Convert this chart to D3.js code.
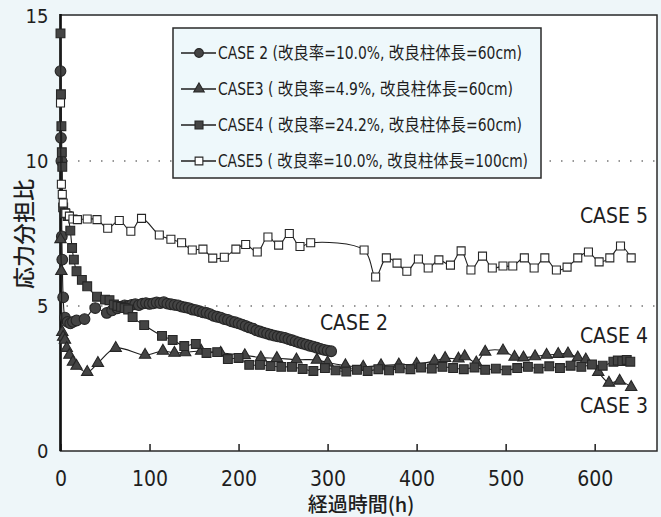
<!DOCTYPE html>
<html>
<head>
<meta charset="utf-8">
<script src="https://cdn.jsdelivr.net/npm/d3@7"></script>
<style>
body { margin: 0; background: #eef6f9; }
</style>
</head>
<body>
<div id="chart"></div>
<script>
// --- Data (elapsed time in h, stress sharing ratio)

var case2 = [[0,13.1],[0.5,10.8],[1,10.0],[1.5,7.4],[2,6.6],[3,5.3],[5,4.6],[8,4.45],[11,4.4],[14,4.45],[18,4.5],
  [27,4.55],[39,4.93],[52,4.76],[58,4.85],[64,4.92],[68,4.98],[72,5.02],[76,5.0],[80,5.04],[84,5.06],[88,5.03],
  [92,5.08],[96,5.1],[100,5.07],[104,5.09],[108,5.12],[112,5.1],[116,5.13],[120,5.08],[124,5.06],[128,5.04],
  [132,5.02],[136,4.98],[140,4.95],[144,4.93],[148,4.88],[152,4.86],[156,4.82],[160,4.78],[164,4.76],[168,4.72],
  [172,4.66],[176,4.63],[180,4.6],[184,4.55],[188,4.52],[192,4.47],[196,4.44],[200,4.4],[204,4.36],[208,4.31],
  [212,4.26],[216,4.22],[220,4.16],[224,4.12],[228,4.08],[232,4.05],[236,4.01],[240,3.98],[244,3.95],[248,3.93],
  [252,3.9],[256,3.86],[260,3.82],[264,3.78],[268,3.74],[272,3.7],[276,3.67],[280,3.63],[284,3.6],[288,3.56],
  [292,3.52],[296,3.49],[300,3.46],[304,3.44]]

var case3 = [[0,7.3],[1,6.2],[2,4.1],[3,3.93],[5,3.83],[7,3.55],[10,3.31],[14,3.07],[18,2.93],[30,2.72],[42,3.03],
  [62,3.55],[95,3.31],[115,3.45],[128,3.38],[140,3.4],[158,3.45],[180,3.38],[207,3.3],[225,3.22],[243,3.2],
  [265,3.15],[288,3.14],[300,3.05],[320,2.95],[340,2.9],[360,2.95],[380,2.98],[400,3.0],[420,3.1],[432,3.2],
  [447,3.18],[454,3.26],[467,3.05],[477,3.42],[497,3.46],[510,3.24],[520,3.22],[533,3.26],[546,3.31],[559,3.34],
  [570,3.36],[581,3.22],[590,3.15],[604,2.72],[616,2.35],[628,2.42],[641,2.2]]

var case4 = [[0,14.4],[0.5,12.3],[1,11.2],[1.5,10.3],[2,9.8],[3,8.4],[5,8.2],[8,8.1],[11,7.6],[13,7.0],[15,6.6],
  [18,6.2],[24,5.9],[30,5.68],[41,5.32],[50,5.22],[55,5.2],[60,5.05],[64,5.0],[68,4.97],[72,4.93],[76,4.88],
  [81,4.62],[94,4.34],[114,3.97],[126,3.83],[139,3.62],[152,3.69],[164,3.38],[176,3.41],[188,3.17],[200,3.21],
  [212,2.97],[224,2.97],[236,2.93],[248,2.9],[260,2.9],[272,2.83],[284,2.76],[297,2.86],[309,2.78],[321,2.74],
  [333,2.8],[345,2.76],[357,2.82],[369,2.78],[381,2.85],[393,2.82],[405,2.88],[417,2.84],[429,2.9],[441,2.86],
  [453,2.82],[465,2.88],[477,2.8],[489,2.84],[501,2.78],[513,2.86],[525,2.9],[537,2.84],[549,2.92],[561,2.86],
  [573,2.94],[585,2.9],[597,2.98],[609,2.94],[621,3.08],[626,3.12],[631,3.1],[636,3.14],[640,3.08]]

var case5 = [[0,12.0],[1,9.2],[2,8.85],[3,8.55],[6,8.2],[10,8.1],[14,8.0],[19,7.98],[30,8.0],[41,7.98],[53,7.68],
  [66,7.95],[79,7.58],[91,8.02],[111,7.45],[124,7.3],[136,7.18],[148,6.93],[160,6.96],[171,6.65],[184,6.68],
  [197,6.96],[208,7.12],[221,6.86],[233,7.38],[245,7.1],[257,7.5],[269,7.05],[281,7.18],[341,6.93],[354,6.0],
  [366,6.66],[378,6.48],[389,6.2],[402,6.62],[413,6.31],[425,6.59],[438,6.41],[450,6.9],[461,6.24],[474,6.72],
  [485,6.31],[497,6.38],[508,6.38],[521,6.66],[532,6.31],[544,6.66],[557,6.24],[569,6.34],[581,6.66],[593,6.86],
  [605,6.52],[617,6.66],[629,7.07],[641,6.66]]

var xTicks = [0, 100, 200, 300, 400, 500, 600]
var yTicks = [0, 5, 10, 15]
var gridValues = [5, 10]

var legendLabels = [
  'CASE 2 (改良率=10.0%, 改良柱体長=60cm)',
  'CASE3 ( 改良率=4.9%, 改良柱体長=60cm)',
  'CASE4 ( 改良率=24.2%, 改良柱体長=60cm)',
  'CASE5 ( 改良率=10.0%, 改良柱体長=100cm)'
]
var curveLabels = ['CASE 2', 'CASE 3', 'CASE 4', 'CASE 5']

// --- Settings

var settings = {}
settings.width = 661
settings.height = 517
settings.left = 60.5
settings.right = 657
settings.top = 16
settings.bottom = 451
settings.latin_font = '"Liberation Sans Narrow", "DejaVu Sans Condensed", "Noto Sans CJK JP", sans-serif'
settings.cjk_font = '"Noto Sans CJK JP", sans-serif'
settings.ink = '#1e1e1e'
settings.mark_fill = '#444'

var svg = d3.select('#chart').append('svg')
  .attr('width', settings.width)
  .attr('height', settings.height)

var x = d3.scaleLinear().domain([0, 670]).range([settings.left, settings.right])
var y = d3.scaleLinear().domain([0, 15]).range([settings.bottom, settings.top])

// Plot background
svg.append('rect')
  .attr('x', settings.left)
  .attr('y', settings.top)
  .attr('width', settings.right - settings.left)
  .attr('height', settings.bottom - settings.top)
  .attr('fill', '#fff')

// Dotted grid
gridValues.forEach(function(v){
  svg.append('line')
    .attr('x1', settings.left + 6).attr('x2', settings.right)
    .attr('y1', y(v)).attr('y2', y(v))
    .attr('stroke', '#777')
    .attr('stroke-width', 1.4)
    .attr('stroke-dasharray', '1.5,10')
})

// Axes
var xAxis = svg.append('g')
  .attr('transform', 'translate(0,' + settings.bottom + ')')
  .call(d3.axisBottom(x).tickValues(xTicks).tickSize(-7).tickPadding(20).tickFormat(d3.format('d')))
xAxis.select('.domain').remove()
xAxis.selectAll('line').attr('stroke', settings.ink).attr('stroke-width', 1.5)
xAxis.selectAll('text')
  .attr('font-family', settings.latin_font)
  .attr('font-size', 21)
  .attr('fill', settings.ink)

var yAxis = svg.append('g')
  .attr('transform', 'translate(' + settings.left + ',0)')
  .call(d3.axisLeft(y).tickValues(yTicks).tickSize(0).tickPadding(12))
yAxis.select('.domain').remove()
yAxis.selectAll('text')
  .attr('font-family', settings.latin_font)
  .attr('font-size', 20)
  .attr('fill', settings.ink)

// Frame
svg.append('rect')
  .attr('x', settings.left)
  .attr('y', settings.top - 1)
  .attr('width', settings.right - settings.left)
  .attr('height', settings.bottom - settings.top + 1)
  .attr('fill', 'none')
  .attr('stroke', '#2a2a2a')
  .attr('stroke-width', 1.5)
svg.append('line')
  .attr('x1', settings.left).attr('x2', settings.left)
  .attr('y1', settings.top - 2).attr('y2', settings.bottom)
  .attr('stroke', '#111')
  .attr('stroke-width', 2.6)

// Series (size = marker in plot, legendSize = marker in legend)
var series = [
  { data: case2, symbol: d3.symbolCircle, size: 90, legendSize: 60, fill: settings.mark_fill },
  { data: case3, symbol: d3.symbolTriangle, size: 56, legendSize: 48, fill: settings.mark_fill },
  { data: case4, symbol: d3.symbolSquare, size: 78, legendSize: 64, fill: settings.mark_fill },
  { data: case5, symbol: d3.symbolSquare, size: 64, legendSize: 60, fill: '#fff' }
]

var line = d3.line()
  .x(function(d){ return x(d[0]) })
  .y(function(d){ return y(d[1]) })
  .curve(d3.curveCatmullRom.alpha(0.5))

series.forEach(function(s){
  svg.append('path')
    .attr('d', line(s.data))
    .attr('fill', 'none')
    .attr('stroke', settings.ink)
    .attr('stroke-width', 1.1)

  svg.append('g').selectAll('path')
    .data(s.data)
    .join('path')
    .attr('transform', function(d){ return 'translate(' + x(d[0]) + ',' + y(d[1]) + ')' })
    .attr('d', d3.symbol().type(s.symbol).size(s.size))
    .attr('fill', s.fill)
    .attr('stroke', '#262626')
    .attr('stroke-width', 1.1)
})

// Curve labels
var curveLabelPos = [[388, 330], [648, 413], [648, 343], [648, 223]]
curveLabels.forEach(function(t, i){
  svg.append('text')
    .attr('x', curveLabelPos[i][0])
    .attr('y', curveLabelPos[i][1])
    .attr('text-anchor', 'end')
    .attr('font-family', settings.latin_font)
    .attr('font-size', 21)
    .attr('fill', settings.ink)
    .text(t)
})

// Legend
var legend = svg.append('g')
legend.append('rect')
  .attr('x', 173).attr('y', 28)
  .attr('width', 368).attr('height', 150)
  .attr('fill', '#eef8fb')
  .attr('stroke', '#2a2a2a')
  .attr('stroke-width', 1.5)

var legendWidths = [304, 295, 304, 310]
legendLabels.forEach(function(t, i){
  var ly = 53 + i * 36
  var s = series[i]
  legend.append('line')
    .attr('x1', 181).attr('x2', 216)
    .attr('y1', ly).attr('y2', ly)
    .attr('stroke', settings.ink)
    .attr('stroke-width', 1.3)
  legend.append('path')
    .attr('transform', 'translate(199,' + ly + ')')
    .attr('d', d3.symbol().type(s.symbol).size(s.legendSize))
    .attr('fill', s.fill)
    .attr('stroke', '#262626')
    .attr('stroke-width', 1.1)
  legend.append('text')
    .attr('x', 218)
    .attr('y', ly + 6)
    .attr('font-family', settings.latin_font)
    .attr('font-size', 17)
    .attr('fill', settings.ink)
    .attr('textLength', legendWidths[i])
    .attr('lengthAdjust', 'spacingAndGlyphs')
    .text(t)
})

// Axis titles
svg.append('text')
  .attr('x', 361)
  .attr('y', 512)
  .attr('text-anchor', 'middle')
  .attr('font-family', settings.cjk_font)
  .attr('font-size', 20)
  .attr('font-weight', 500)
  .attr('fill', settings.ink)
  .text('経過時間(h)')

svg.append('text')
  .attr('transform', 'translate(32,234) rotate(-90)')
  .attr('text-anchor', 'middle')
  .attr('font-family', settings.cjk_font)
  .attr('font-size', 22)
  .attr('font-weight', 500)
  .attr('fill', settings.ink)
  .text('応力分担比')
</script>
</body>
</html>
